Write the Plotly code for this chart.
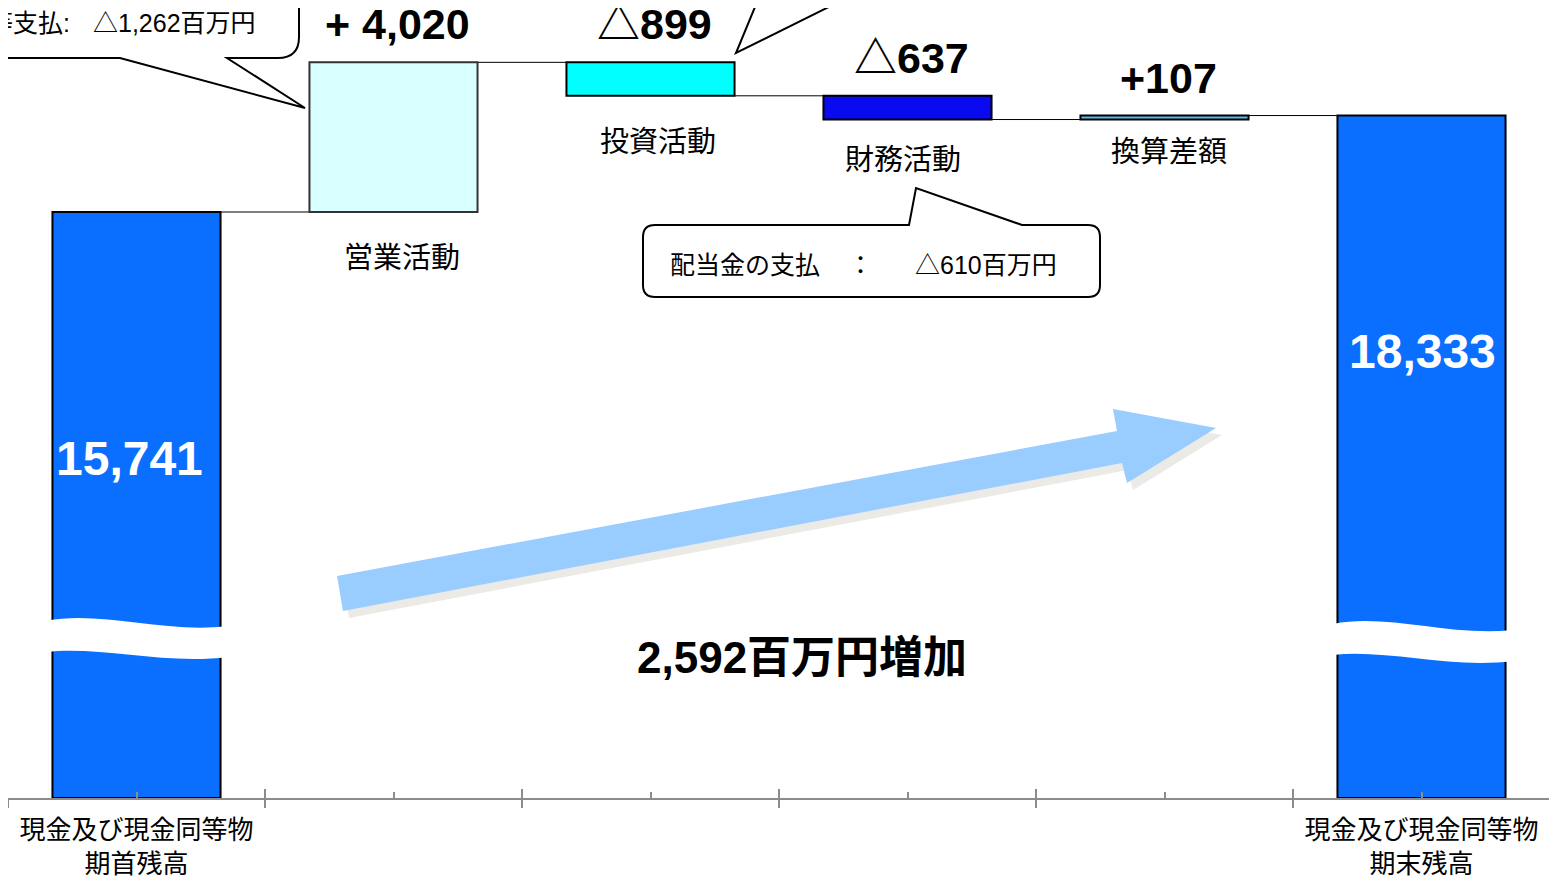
import plotly.graph_objects as go

# ---------------- data ----------------
CATEGORIES = ["期首残高", "営業活動", "投資活動", "財務活動", "換算差額", "期末残高"]
AXIS_LABELS = ["現金及び現金同等物<br>期首残高", "", "", "", "", "現金及び現金同等物<br>期末残高"]
STEP_NAMES = ["営業活動", "投資活動", "財務活動", "換算差額"]
OPENING = 15741
CHANGES = [4020, -899, -637, 107]
CLOSING = 18333
CHANGE_LABELS = ["+ 4,020", "△899", "△637", "+107"]
OP_NOTE_LABELS = ["売上債権の増加:", "法人税等支払:"]
OP_NOTE_VALUES = ["△543百万円", "△1,262百万円"]
FIN_NOTE = ["配当金の支払", "：", "△610百万円"]

# ---------------- style ----------------
BAR_COLORS = ["#0A6EFF", "#D9FFFF", "#00FFFF", "#0A0AF0", "#5CC0E6", "#0A6EFF"]
BAR_LINE = ["#000000", "#333333", "#000000", "#000000", "#000000", "#000000"]
AX = "#8C8C8C"
CJK = "Noto Sans CJK JP"
MIX = "Liberation Sans, Noto Sans CJK JP"
BAR_W = 0.654

OFF = 8                      # page offset of the figure inside the browser window
W, H = 1557 - OFF, 886 - OFF
ML, MR, MT, MB = 0, 7, 0, 88
PW, PH = W - ML - MR, H - MT - MB
PX_PER_UNIT = 586.0 / OPENING
YMAX = PH / PX_PER_UNIT


def fx(px):
    return (px - OFF - ML) / PW


def fy(py):
    return 1 - (py - OFF - MT) / PH


def path(cmds):
    out = []
    for c in cmds:
        if isinstance(c, str):
            out.append(c)
        else:
            out.append(f"{fx(c[0]):.5f},{fy(c[1]):.5f}")
    return " ".join(out)


# ---------------- waterfall geometry from data ----------------
bases, heights, levels = [0], [OPENING], [OPENING]
level = OPENING
for c in CHANGES:
    bases.append(min(level, level + c))
    heights.append(abs(c))
    level += c
    levels.append(level)
bases.append(0)
heights.append(CLOSING)
xs = list(range(len(CATEGORIES)))

fig = go.Figure()
fig.add_trace(go.Bar(
    x=xs, y=heights, base=bases, width=BAR_W,
    marker=dict(color=BAR_COLORS, line=dict(color=BAR_LINE, width=2)),
    hoverinfo="skip", showlegend=False,
))
for ax in ["x2", "x3"]:
    fig.add_trace(go.Scatter(x=[0], y=[0], xaxis=ax, mode="markers",
                             marker=dict(opacity=0), hoverinfo="skip", showlegend=False))

shapes = []
# connectors
for i in range(len(CATEGORIES) - 1):
    shapes.append(dict(type="line", xref="x", yref="y",
                       x0=i + BAR_W / 2, x1=i + 1 - BAR_W / 2,
                       y0=levels[i], y1=levels[i],
                       line=dict(color="black", width=1), layer="below"))


# break waves on the two balance bars
def wave(x0, x1, yl, yr, d=31):
    w = x1 - x0
    top = [(x0, yl), (x0 + 0.30 * w, yl - 11), (x0 + 0.65 * w, yl + 13), (x1, yr)]
    bot = [(x1, yr + d), (x0 + 0.65 * w, yr + d + 8), (x0 + 0.30 * w, yl + d - 6), (x0, yl + d)]
    return path(["M", top[0], "C", top[1], top[2], top[3], "L", bot[0], "C", bot[1], bot[2], bot[3], "Z"])


shapes.append(dict(type="path", xref="paper", yref="paper", path=wave(46, 228, 621, 626),
                   fillcolor="white", line=dict(width=0), layer="above"))
shapes.append(dict(type="path", xref="paper", yref="paper", path=wave(1333, 1513, 624, 630),
                   fillcolor="white", line=dict(width=0), layer="above"))

# big arrow with shadow
arrow = [(337, 576), (1117, 431), (1113, 409), (1216, 428), (1127, 483), (1122, 463), (343, 611)]
shadow = [(x + 6, y + 7) for x, y in arrow]


def poly(pts):
    cmds = ["M", pts[0]]
    for p in pts[1:]:
        cmds += ["L", p]
    cmds.append("Z")
    return path(cmds)


shapes.append(dict(type="path", xref="paper", yref="paper", path=poly(shadow),
                   fillcolor="#ECEAE6", line=dict(width=0), layer="above"))
shapes.append(dict(type="path", xref="paper", yref="paper", path=poly(arrow),
                   fillcolor="#99CCFF", line=dict(width=0), layer="above"))

# top-left callout (operating)
shapes.append(dict(type="path", xref="paper", yref="paper",
                   path=path(["M", (-40, 58), "L", (120, 58), "L", (305, 108), "L", (227, 58),
                              "L", (278, 58), "Q", (299, 58), (299, 37), "L", (299, -60)]),
                   fillcolor="white", line=dict(color="black", width=2), layer="above"))
# top-right callout tail (investing)
shapes.append(dict(type="path", xref="paper", yref="paper",
                   path=path(["M", (762, -10), "L", (736, 53), "L", (863, -10)]),
                   line=dict(color="black", width=2), layer="above"))
# dividend callout
shapes.append(dict(type="path", xref="paper", yref="paper",
                   path=path(["M", (655, 225), "L", (909, 225), "L", (916, 188), "L", (1022, 225),
                              "L", (1088, 225), "Q", (1100, 225), (1100, 237), "L", (1100, 285),
                              "Q", (1100, 297), (1088, 297), "L", (655, 297), "Q", (643, 297), (643, 285),
                              "L", (643, 237), "Q", (643, 225), (655, 225), "Z"]),
                   fillcolor="white", line=dict(color="black", width=2), layer="above"))

ann = []
# change values above the step bars and their names below
NAME_OFFS = [(8, 43), (7, 43), (-5, 37), (4, 29)]
for k, (lab, name) in enumerate(zip(CHANGE_LABELS, STEP_NAMES)):
    i = k + 1
    top = bases[i] + heights[i]
    ann.append(dict(x=i, y=top, xref="x", yref="y", text=lab, showarrow=False,
                    xshift=4, yshift=38, xanchor="center", yanchor="middle",
                    font=dict(family=MIX, size=43, color="black", weight="bold")))
    dx, dy = NAME_OFFS[k]
    ann.append(dict(x=i, y=bases[i], xref="x", yref="y", text=name, showarrow=False,
                    xshift=dx, yshift=-dy, xanchor="center", yanchor="middle",
                    font=dict(family=CJK, size=29, color="black")))

# balances inside bars
NUMF = "Liberation Sans Narrow, Liberation Sans, Arial, sans-serif"
ann.append(dict(x=fx(129), y=fy(458), xref="paper", yref="paper", text=f"{OPENING:,}",
                xanchor="center", yanchor="middle", showarrow=False,
                font=dict(family=NUMF, size=48, color="white", weight="bold")))
ann.append(dict(x=fx(1422), y=fy(351), xref="paper", yref="paper", text=f"{CLOSING:,}",
                xanchor="center", yanchor="middle", showarrow=False,
                font=dict(family=NUMF, size=48, color="white", weight="bold")))

# total increase
ann.append(dict(x=fx(802), y=fy(657), xref="paper", yref="paper",
                text=f"{CLOSING - OPENING:,}百万円増加", showarrow=False,
                xanchor="center", yanchor="middle",
                font=dict(family=MIX, size=44, color="black", weight="bold")))

# operating callout text
for j, yy in enumerate([-5, 23]):
    ann.append(dict(x=fx(72), y=fy(yy), xref="paper", yref="paper", text=OP_NOTE_LABELS[j],
                    xanchor="right", yanchor="middle", showarrow=False,
                    font=dict(family=MIX, size=25, color="black")))
    ann.append(dict(x=fx(258), y=fy(yy), xref="paper", yref="paper", text=OP_NOTE_VALUES[j],
                    xanchor="right", yanchor="middle", showarrow=False,
                    font=dict(family=MIX, size=25, color="black")))

# dividend callout text
for txt, xx in zip(FIN_NOTE, [668, 846, 913]):
    ann.append(dict(x=fx(xx), y=fy(265), xref="paper", yref="paper", text=txt,
                    xanchor="left", yanchor="middle", showarrow=False,
                    font=dict(family=MIX, size=25, color="black")))

bounds = [i - 0.5 for i in range(len(CATEGORIES) + 1)]
fig.update_layout(
    width=W, height=H, margin=dict(l=ML, r=MR, t=MT, b=MB),
    plot_bgcolor="white", paper_bgcolor="white", showlegend=False,
    shapes=shapes, annotations=ann,
    xaxis=dict(range=[-0.5, len(CATEGORIES) - 0.5], tickmode="array", tickvals=bounds,
               ticks="outside", ticklen=8, tickwidth=1.5, tickcolor=AX,
               showticklabels=False, showline=True, linecolor=AX, linewidth=1.5,
               showgrid=False, zeroline=False),
    xaxis2=dict(overlaying="x", anchor="y", range=[-0.5, len(CATEGORIES) - 0.5],
                tickmode="array", tickvals=bounds, ticks="inside", ticklen=9, tickwidth=1.5,
                tickcolor=AX, showticklabels=False, showline=False, showgrid=False, zeroline=False),
    xaxis3=dict(overlaying="x", anchor="y", range=[-0.5, len(CATEGORIES) - 0.5],
                tickmode="array", tickvals=xs, ticktext=AXIS_LABELS, ticks="inside", ticklen=6,
                tickwidth=1.5, tickcolor=AX, showline=False, showgrid=False, zeroline=False,
                ticklabelstandoff=14,
                tickfont=dict(family=CJK, size=26, color="black")),
    yaxis=dict(range=[0, YMAX], visible=False, showgrid=False, zeroline=False),
)

fig.write_html("out.html")
